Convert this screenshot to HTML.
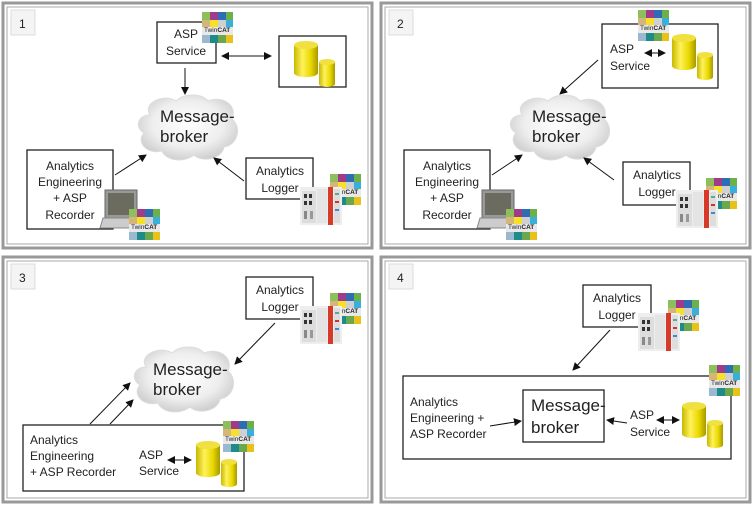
<!DOCTYPE html>
<html><head><meta charset="utf-8"><style>
html,body{margin:0;padding:0;background:#fff}
svg{display:block}
text{font-family:"Liberation Sans",sans-serif;fill:#222}
</style></head><body>
<svg width="753" height="505" viewBox="0 0 753 505" xmlns="http://www.w3.org/2000/svg">
<defs>
<marker id="ah" markerWidth="8" markerHeight="8" refX="7" refY="4" orient="auto" markerUnits="userSpaceOnUse"><path d="M0,0 L8,4 L0,8 z" fill="#111"/></marker>
<marker id="ahs" markerWidth="8" markerHeight="8" refX="1" refY="4" orient="auto" markerUnits="userSpaceOnUse"><path d="M8,0 L0,4 L8,8 z" fill="#111"/></marker>
<radialGradient id="cg" cx="0.5" cy="0.45" r="0.6"><stop offset="0" stop-color="#fff"/><stop offset="0.6" stop-color="#eee"/><stop offset="1" stop-color="#c8c8c8"/></radialGradient>
<linearGradient id="yg" x1="0" x2="1"><stop offset="0" stop-color="#c8b800"/><stop offset="0.35" stop-color="#fff25a"/><stop offset="0.7" stop-color="#e8d800"/><stop offset="1" stop-color="#a89800"/></linearGradient>
<g id="tc">
<rect x="0" y="0" width="31" height="31" fill="#eee"/>
<rect x="0" y="0" width="8" height="8" fill="#8dc05a"/><rect x="8" y="0" width="8" height="8" fill="#a23a8c"/><rect x="16" y="0" width="8" height="8" fill="#2e6db4"/><rect x="24" y="0" width="7" height="8" fill="#6bb048"/>
<rect x="0" y="8" width="8" height="7" fill="#d4b57a"/><rect x="8" y="8" width="8" height="7" fill="#f5e12a"/><rect x="16" y="8" width="8" height="7" fill="#d0d0d0"/><rect x="24" y="8" width="7" height="7" fill="#37b0dc"/>
<rect x="0" y="15" width="31" height="8" fill="#e8e8e8"/>
<rect x="0" y="23" width="8" height="8" fill="#9ab8d0"/><rect x="8" y="23" width="8" height="8" fill="#1f8a8a"/><rect x="16" y="23" width="8" height="8" fill="#6aa84f"/><rect x="24" y="23" width="7" height="8" fill="#e8c21a"/>
</g>
<g id="cyl">
<path d="M0,4 v28 a12,4 0 0 0 24,0 v-28" fill="url(#yg)"/>
<ellipse cx="12" cy="4" rx="12" ry="4" fill="#f0e040"/>
<path d="M25,21 v22 a8,3 0 0 0 16,0 v-22" fill="url(#yg)"/>
<ellipse cx="33" cy="21" rx="8" ry="3" fill="#f0e040"/>
</g>
<g id="cloud">
<path d="M14,20 C6,8 28,-2 40,6 C48,-2 66,-2 72,6 C86,0 102,10 96,24 C106,32 102,50 88,52 C86,64 66,68 58,60 C48,68 30,66 26,56 C10,60 0,46 8,38 C-2,32 2,20 14,20 z" fill="url(#cg)" stroke="#ddd"/>
</g>
<g id="dev">
<rect x="0" y="0" width="42" height="38" fill="#eee"/>
<rect x="2" y="4" width="14" height="32" fill="#ddd"/>
<rect x="4" y="7" width="3" height="4" fill="#333"/><rect x="9" y="7" width="3" height="4" fill="#333"/>
<rect x="4" y="14" width="3" height="4" fill="#333"/><rect x="9" y="14" width="3" height="4" fill="#333"/>
<rect x="4" y="24" width="3" height="8" fill="#888"/><rect x="10" y="24" width="3" height="8" fill="#999"/>
<rect x="17" y="2" width="10" height="34" fill="#e4e4e4"/>
<rect x="28" y="0" width="5" height="38" fill="#d83a2a"/>
<rect x="34" y="2" width="6" height="34" fill="#ddd"/>
<rect x="35" y="6" width="4" height="2" fill="#5a9"/><rect x="35" y="14" width="4" height="2" fill="#c33"/><rect x="35" y="22" width="4" height="2" fill="#48c"/>
</g>
<g id="laptop">
<rect x="5" y="0" width="32" height="28" fill="#999" stroke="#666"/>
<rect x="8" y="3" width="26" height="22" fill="#6b6b60"/>
<path d="M3,28 L39,28 L42,38 L0,38 z" fill="#ccc" stroke="#888"/>
</g>
</defs>

<!-- panel frames -->
<g fill="none">
<rect x="3" y="3" width="369" height="245" stroke="#999" stroke-width="3"/>
<rect x="7" y="7" width="361" height="237" stroke="#aaa" stroke-width="1"/>
<rect x="381" y="3" width="369" height="245" stroke="#999" stroke-width="3"/>
<rect x="385" y="7" width="361" height="237" stroke="#aaa" stroke-width="1"/>
<rect x="3" y="257" width="369" height="245" stroke="#999" stroke-width="3"/>
<rect x="7" y="261" width="361" height="237" stroke="#aaa" stroke-width="1"/>
<rect x="381" y="257" width="369" height="245" stroke="#999" stroke-width="3"/>
<rect x="385" y="261" width="361" height="237" stroke="#aaa" stroke-width="1"/>
</g>
<!-- number boxes -->
<g fill="#f4f4f4" stroke="#ddd">
<rect x="11" y="10" width="24" height="25"/><rect x="389" y="10" width="24" height="25"/>
<rect x="11" y="264" width="24" height="25"/><rect x="389" y="264" width="24" height="25"/>
</g>
<g font-size="12">
<text x="19" y="28">1</text><text x="397" y="28">2</text><text x="19" y="282">3</text><text x="397" y="282">4</text>
</g>

<!-- PANEL 1 -->
<rect x="157" y="22" width="59" height="41" fill="#fff" stroke="#222" stroke-width="1.3"/>
<text x="186" y="38" font-size="12" text-anchor="middle">ASP</text>
<text x="186" y="55" font-size="12" text-anchor="middle">Service</text>
<use href="#tc" x="202" y="12"/><text x="204" y="32" font-size="6.5" fill="#444">Twin<tspan font-weight="bold" fill="#222">CAT</tspan></text>
<rect x="279" y="36" width="67" height="51" fill="#fff" stroke="#222" stroke-width="1.3"/>
<use href="#cyl" x="294" y="41"/>
<line x1="222" y1="56" x2="271" y2="56" stroke="#111" marker-start="url(#ahs)" marker-end="url(#ah)"/>
<line x1="185" y1="68" x2="185" y2="94" stroke="#111" marker-end="url(#ah)"/>
<use href="#cloud" x="136" y="95"/>
<text x="160" y="122" font-size="17">Message-</text>
<text x="160" y="142" font-size="17">broker</text>
<rect x="27" y="150" width="86" height="79" fill="#fff" stroke="#222" stroke-width="1.3"/>
<g font-size="12" text-anchor="middle"><text x="70" y="170">Analytics</text><text x="70" y="186">Engineering</text><text x="70" y="202">+ ASP</text><text x="70" y="219">Recorder</text></g>
<use href="#laptop" x="100" y="190"/>
<use href="#tc" x="129" y="209"/><text x="131" y="229" font-size="6.5" fill="#444">Twin<tspan font-weight="bold" fill="#222">CAT</tspan></text>
<line x1="115" y1="175" x2="146" y2="155" stroke="#111" marker-end="url(#ah)"/>
<line x1="244" y1="181" x2="214" y2="158" stroke="#111" marker-end="url(#ah)"/>
<rect x="246" y="158" width="67" height="41" fill="#fff" stroke="#222" stroke-width="1.3"/>
<text x="280" y="175" font-size="12" text-anchor="middle">Analytics</text>
<text x="280" y="192" font-size="12" text-anchor="middle">Logger</text>
<use href="#tc" x="330" y="174"/><text x="332" y="194" font-size="6.5" fill="#444">Twin<tspan font-weight="bold" fill="#222">CAT</tspan></text>
<use href="#dev" x="300" y="187"/>

<!-- PANEL 2 -->
<rect x="602" y="24" width="116" height="64" fill="#fff" stroke="#222" stroke-width="1.3"/>
<use href="#tc" x="638" y="10"/><text x="640" y="30" font-size="6.5" fill="#444">Twin<tspan font-weight="bold" fill="#222">CAT</tspan></text>
<text x="610" y="53" font-size="12">ASP</text>
<text x="610" y="70" font-size="12">Service</text>
<line x1="645" y1="53" x2="665" y2="53" stroke="#111" marker-start="url(#ahs)" marker-end="url(#ah)"/>
<use href="#cyl" x="672" y="34"/>
<line x1="598" y1="60" x2="560" y2="94" stroke="#111" marker-end="url(#ah)"/>
<use href="#cloud" x="508" y="95"/>
<text x="532" y="122" font-size="17">Message-</text>
<text x="532" y="142" font-size="17">broker</text>
<rect x="404" y="150" width="86" height="79" fill="#fff" stroke="#222" stroke-width="1.3"/>
<g font-size="12" text-anchor="middle"><text x="447" y="170">Analytics</text><text x="447" y="186">Engineering</text><text x="447" y="202">+ ASP</text><text x="447" y="219">Recorder</text></g>
<use href="#laptop" x="477" y="190"/>
<use href="#tc" x="506" y="209"/><text x="508" y="229" font-size="6.5" fill="#444">Twin<tspan font-weight="bold" fill="#222">CAT</tspan></text>
<line x1="492" y1="175" x2="522" y2="155" stroke="#111" marker-end="url(#ah)"/>
<line x1="614" y1="180" x2="584" y2="158" stroke="#111" marker-end="url(#ah)"/>
<rect x="623" y="162" width="67" height="43" fill="#fff" stroke="#222" stroke-width="1.3"/>
<text x="657" y="179" font-size="12" text-anchor="middle">Analytics</text>
<text x="657" y="196" font-size="12" text-anchor="middle">Logger</text>
<use href="#tc" x="706" y="178"/><text x="708" y="198" font-size="6.5" fill="#444">Twin<tspan font-weight="bold" fill="#222">CAT</tspan></text>
<use href="#dev" x="676" y="190"/>

<!-- PANEL 3 -->
<rect x="246" y="277" width="67" height="42" fill="#fff" stroke="#222" stroke-width="1.3"/>
<text x="280" y="294" font-size="12" text-anchor="middle">Analytics</text>
<text x="280" y="311" font-size="12" text-anchor="middle">Logger</text>
<use href="#tc" x="330" y="293"/><text x="332" y="313" font-size="6.5" fill="#444">Twin<tspan font-weight="bold" fill="#222">CAT</tspan></text>
<use href="#dev" x="300" y="306"/>
<line x1="275" y1="323" x2="235" y2="364" stroke="#111" marker-end="url(#ah)"/>
<use href="#cloud" x="132" y="347"/>
<text x="153" y="375" font-size="17">Message-</text>
<text x="153" y="395" font-size="17">broker</text>
<line x1="90" y1="424" x2="130" y2="383" stroke="#111" marker-end="url(#ah)"/>
<line x1="110" y1="424" x2="133" y2="400" stroke="#111" marker-end="url(#ah)"/>
<rect x="23" y="425" width="221" height="66" fill="#fff" stroke="#222" stroke-width="1.3"/>
<g font-size="12"><text x="30" y="444">Analytics</text><text x="30" y="460">Engineering</text><text x="30" y="476">+ ASP Recorder</text>
<text x="139" y="459">ASP</text><text x="139" y="475">Service</text></g>
<line x1="168" y1="460" x2="191" y2="460" stroke="#111" marker-start="url(#ahs)" marker-end="url(#ah)"/>
<use href="#cyl" x="196" y="441"/>
<use href="#tc" x="223" y="421"/><text x="225" y="441" font-size="6.5" fill="#444">Twin<tspan font-weight="bold" fill="#222">CAT</tspan></text>

<!-- PANEL 4 -->
<rect x="583" y="285" width="68" height="42" fill="#fff" stroke="#222" stroke-width="1.3"/>
<text x="617" y="302" font-size="12" text-anchor="middle">Analytics</text>
<text x="617" y="319" font-size="12" text-anchor="middle">Logger</text>
<use href="#tc" x="668" y="300"/><text x="670" y="320" font-size="6.5" fill="#444">Twin<tspan font-weight="bold" fill="#222">CAT</tspan></text>
<use href="#dev" x="638" y="313"/>
<line x1="610" y1="330" x2="573" y2="370" stroke="#111" marker-end="url(#ah)"/>
<rect x="403" y="376" width="328" height="83" fill="#fff" stroke="#222" stroke-width="1.3"/>
<use href="#tc" x="709" y="365"/><text x="711" y="385" font-size="6.5" fill="#444">Twin<tspan font-weight="bold" fill="#222">CAT</tspan></text>
<g font-size="12"><text x="410" y="406">Analytics</text><text x="410" y="422">Engineering +</text><text x="410" y="438">ASP Recorder</text>
<text x="630" y="419">ASP</text><text x="630" y="436">Service</text></g>
<rect x="523" y="390" width="81" height="52" fill="#fff" stroke="#222" stroke-width="1.3"/>
<text x="531" y="411" font-size="17">Message-</text>
<text x="531" y="433" font-size="17">broker</text>
<line x1="490" y1="426" x2="521" y2="421" stroke="#111" marker-end="url(#ah)"/>
<line x1="627" y1="423" x2="607" y2="420" stroke="#111" marker-end="url(#ah)"/>
<line x1="657" y1="420" x2="679" y2="420" stroke="#111" marker-start="url(#ahs)" marker-end="url(#ah)"/>
<use href="#cyl" x="682" y="402"/>
</svg>
</body></html>
